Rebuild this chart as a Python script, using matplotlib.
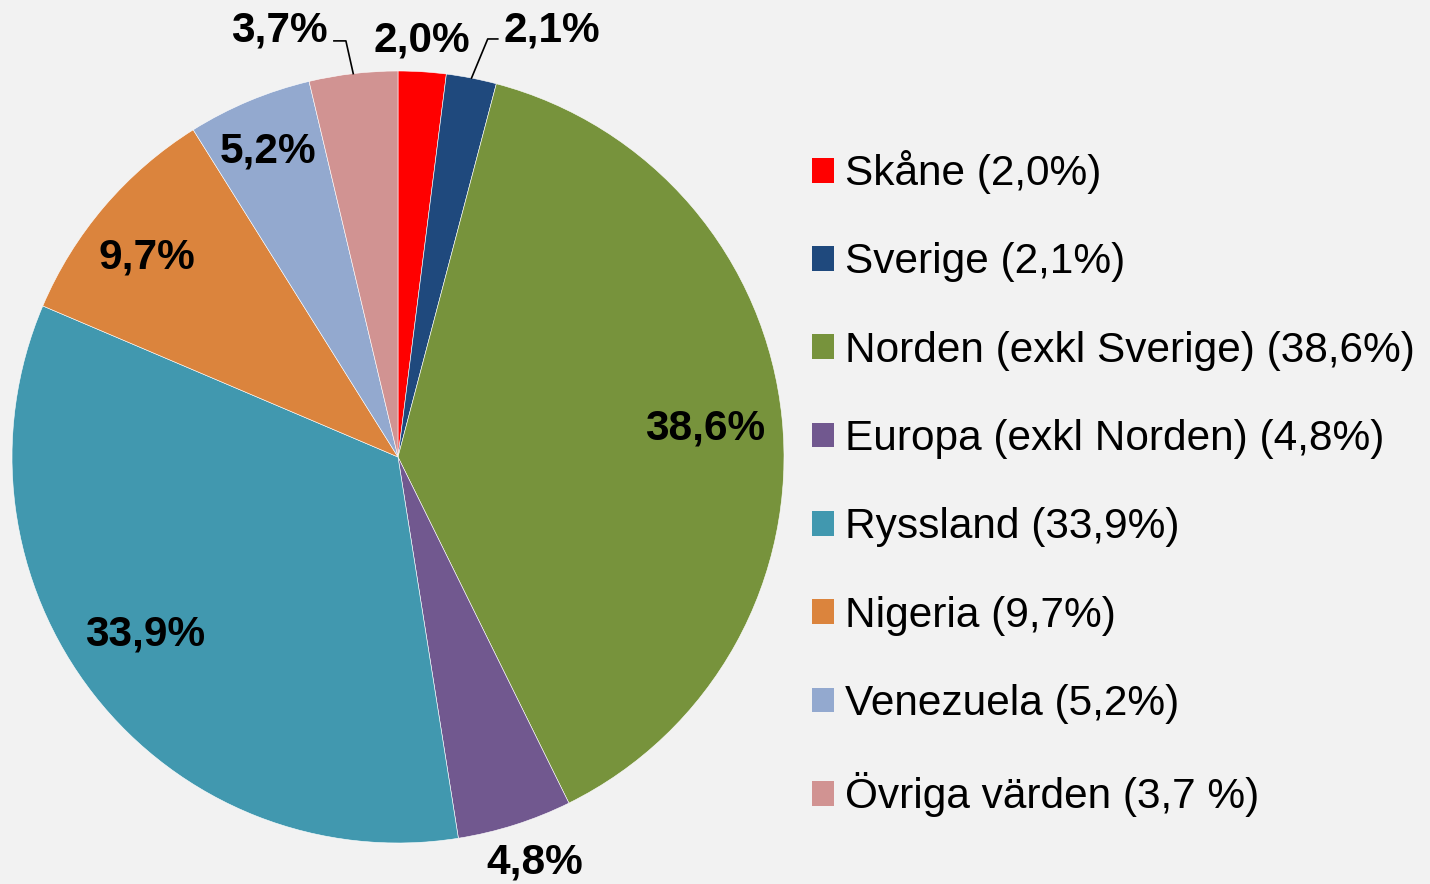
import numpy as np
import matplotlib
matplotlib.use('Agg')
import matplotlib.pyplot as plt
from matplotlib.patches import Patch

plt.rcParams['font.family'] = ['Liberation Sans', 'DejaVu Sans']

regioner = ['Skåne', 'Sverige', 'Norden (exkl Sverige)', 'Europa (exkl Norden)',
            'Ryssland', 'Nigeria', 'Venezuela', 'Övriga värden']
andelar = [2.0, 2.1, 38.6, 4.8, 33.9, 9.7, 5.2, 3.7]
etiketter = ['2,0%', '2,1%', '38,6%', '4,8%', '33,9%', '9,7%', '5,2%', '3,7%']
legendtext = ['Skåne (2,0%)', 'Sverige (2,1%)', 'Norden (exkl Sverige) (38,6%)',
              'Europa (exkl Norden) (4,8%)', 'Ryssland (33,9%)', 'Nigeria (9,7%)',
              'Venezuela (5,2%)', 'Övriga värden (3,7 %)']
farger = ['#FF0000', '#1F497D', '#77933C', '#71588F',
          '#4198AF', '#DB843D', '#93A9CF', '#D19392']

bg = '#F2F2F2'
fs = 30.5
fig = plt.figure(figsize=(14.3, 8.84), dpi=100, facecolor=bg)
# pie: center ~ (398,457) px, radius ~386 px
W, H = 1430, 884
cx, cy, R = 398, 457, 386
ax = fig.add_axes([(cx - R) / W, (H - cy - R) / H, 2 * R / W, 2 * R / H])
ax.set_facecolor(bg)

wedges, _ = ax.pie(andelar, colors=farger, startangle=90, counterclock=False,
                   radius=1, wedgeprops=dict(edgecolor='white', linewidth=0.4))
ax.set_xlim(-1, 1)
ax.set_ylim(-1, 1)
ax.axis('off')

# label placement: (radial distance, angle offset in degrees)
lab_r = [1.08, 1.175, 0.80, 1.11, 0.80, 0.83, 0.86, 1.148]
lab_da = [0.3, -8.9, -0.4, 1.0, -2.9, 2.1, 0.4, 8.9]
for i, w in enumerate(wedges):
    mid = np.deg2rad((w.theta1 + w.theta2) / 2)
    ang = mid + np.deg2rad(lab_da[i])
    x, y = lab_r[i] * np.cos(ang), lab_r[i] * np.sin(ang)
    ax.text(x, y, etiketter[i], ha='center', va='center', fontsize=fs,
            fontweight='bold', color='black', clip_on=False)
    if i in (1, 7):
        ex, ey = np.cos(mid), np.sin(mid)
        if i == 1:
            kx, ky = ex + 0.042, 1.083
            hx = kx + 0.026
        else:
            kx, ky = ex - 0.019, 1.078
            hx = kx - 0.031
        ax.plot([ex, kx, hx], [ey, ky, ky], color='black', lw=1.2,
                clip_on=False)

handles = [Patch(facecolor=c, edgecolor='none') for c in farger]
leg = fig.legend(handles, legendtext, loc='upper left',
                 bbox_to_anchor=(791 / W, 1 - 129 / H), frameon=False,
                 fontsize=fs, handlelength=0.52, handleheight=0.52,
                 handletextpad=0.26, labelspacing=1.14, borderpad=0)

fig.savefig('out.png', dpi=100, facecolor=bg)
